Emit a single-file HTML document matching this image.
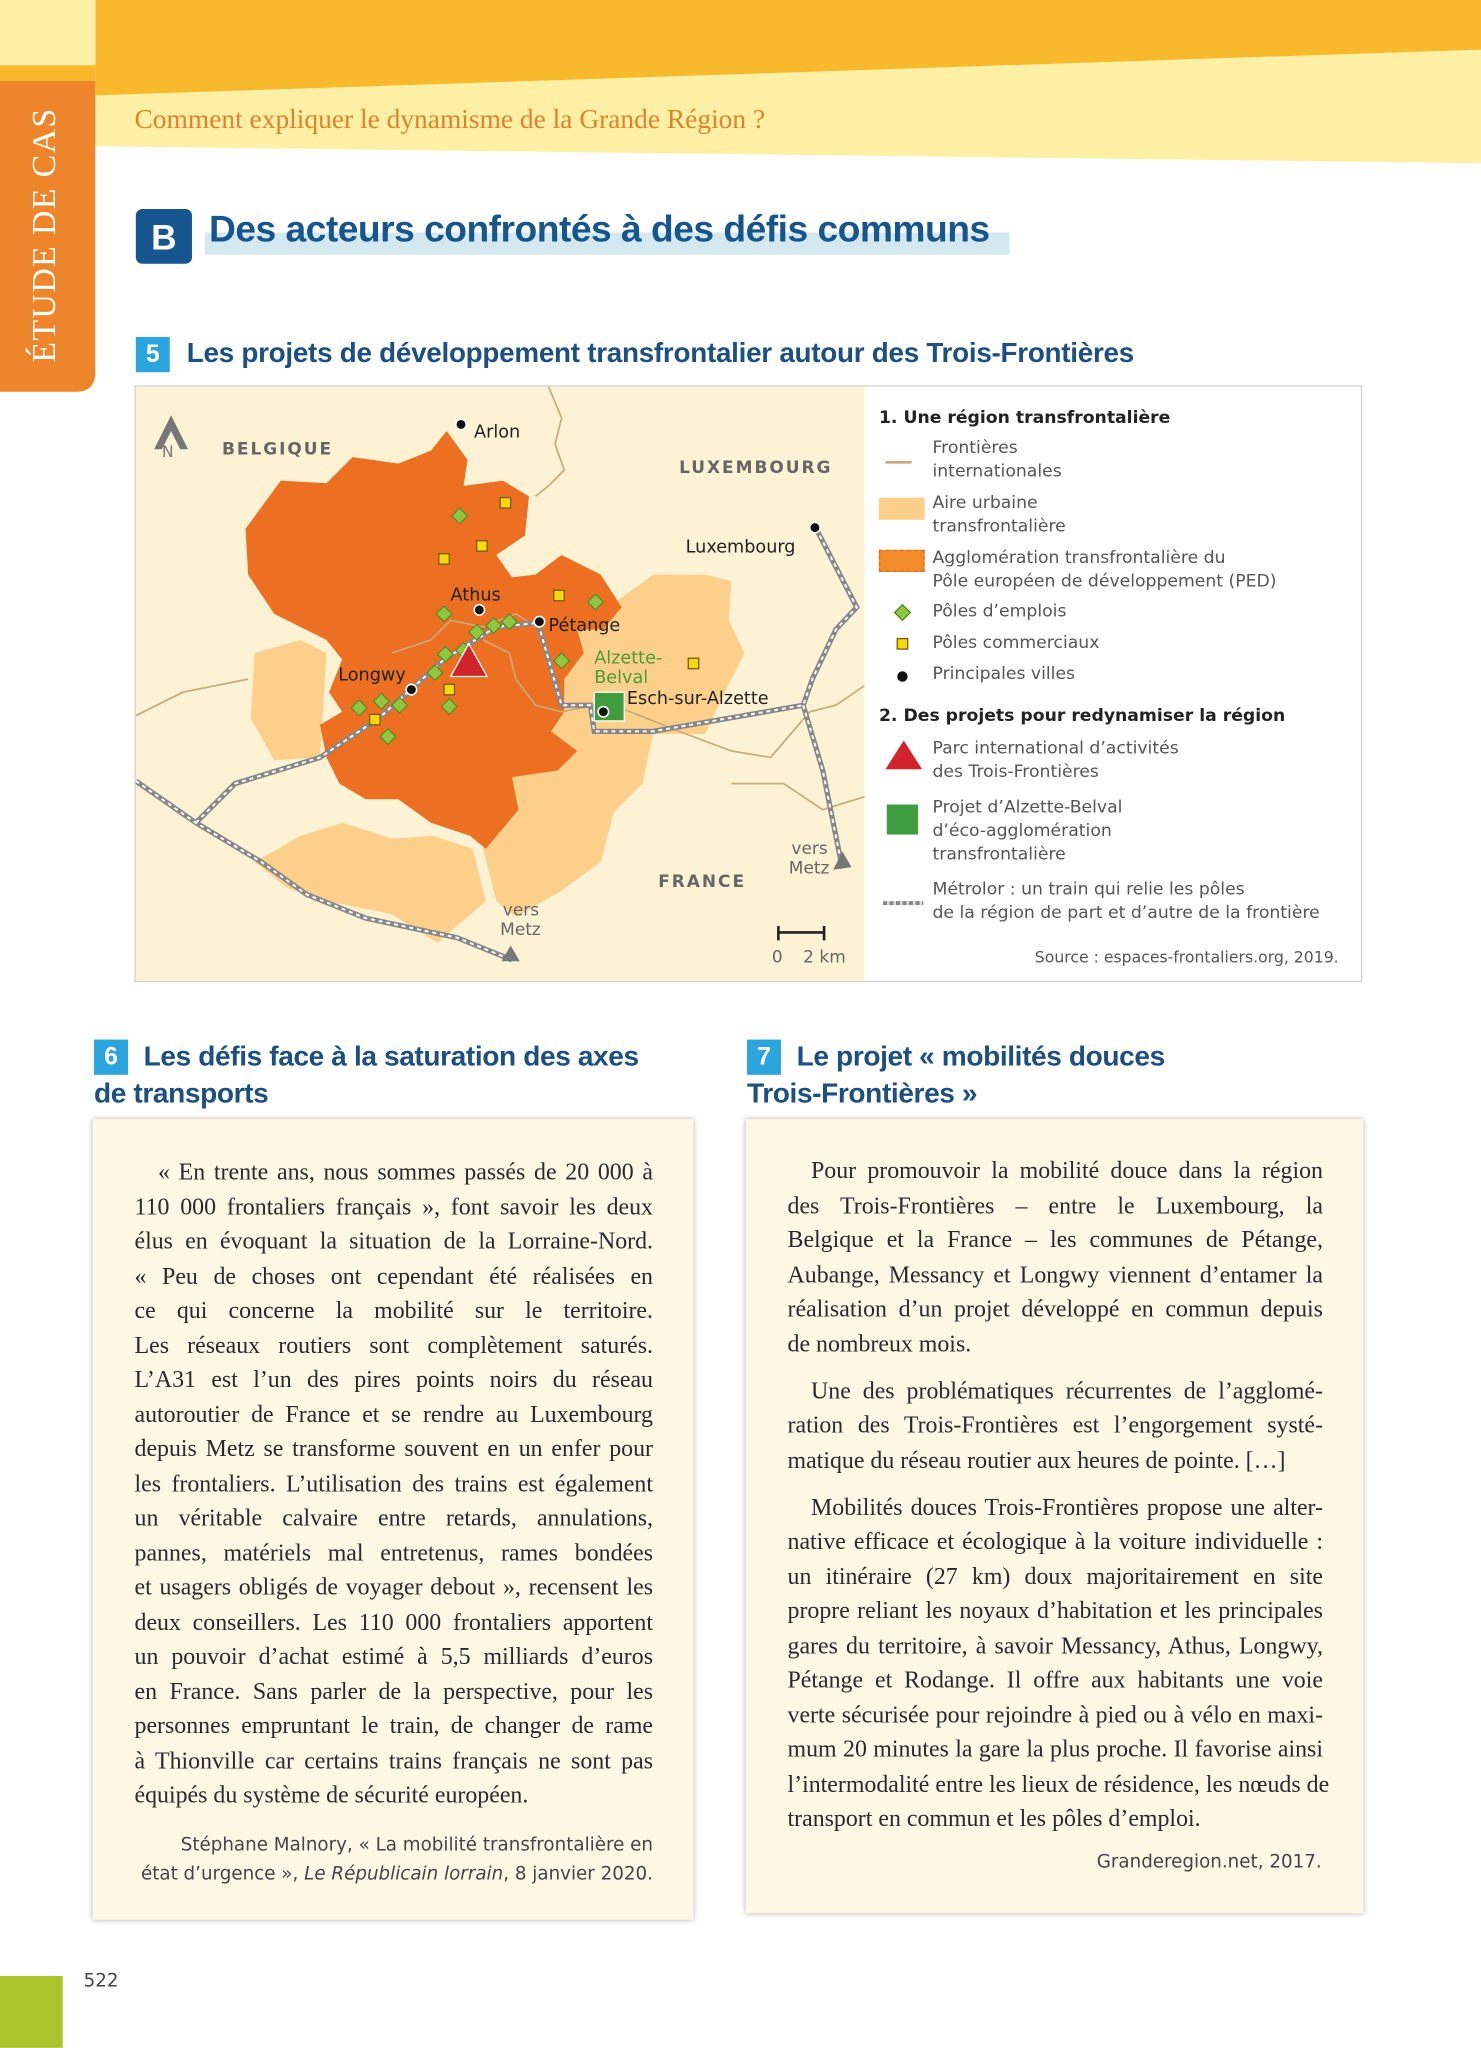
<!DOCTYPE html>
<html><head><meta charset="utf-8">
<style>
html,body{margin:0;padding:0;background:#fff;}
body{width:1481px;height:2048px;overflow:hidden;position:relative;}
#p{position:absolute;left:0;top:0;width:1134px;height:1568px;transform:scale(1.306);transform-origin:0 0;background:#fff;}
.a{position:absolute;}
.sans{font-family:"Liberation Sans",sans-serif;}
.dv{font-family:"DejaVu Sans","Liberation Sans",sans-serif;}
.col{position:absolute;font-family:"Liberation Serif",serif;font-size:18.3px;line-height:26.5px;color:#2a2a2a;}
.col div{text-align:justify;text-align-last:justify;white-space:nowrap;}
.col div.l{text-align-last:left;}
.col div.i{padding-left:18px;}
.col div.gap{margin-top:9.5px;}
.h{font-family:"Liberation Sans",sans-serif;font-weight:bold;color:#1d4f80;}
.lg{position:absolute;left:714px;font-family:"DejaVu Sans",sans-serif;font-size:13.2px;line-height:18px;color:#555;}
</style></head><body>
<div id="p">
<svg class="a" style="left:0;top:0" width="1134" height="320">
<polygon points="73,0 1134,0 1134,125 73,112" fill="#fdf0a4"/>
<polygon points="73,0 1134,0 1134,38 73,73" fill="#f8b92c"/>
<rect x="0" y="0" width="73" height="50" fill="#fdf0a4"/>
<rect x="0" y="50" width="73" height="12" fill="#f8b92c"/>
<path d="M0,62 H73 V285 Q73,300 58,300 H0 Z" fill="#ee852a"/>
</svg>
<div class="a" style="left:34px;top:180px;transform:translate(-50%,-50%) rotate(-90deg);font-family:'Liberation Serif',serif;font-size:26px;color:#fff;white-space:nowrap;letter-spacing:1px;">ÉTUDE DE CAS</div>
<div class="a" style="left:103px;top:79px;font-family:'Liberation Serif',serif;font-size:21px;color:#e0822c;">Comment expliquer le dynamisme de la Grande Région ?</div>

<div class="a" style="left:157px;top:178px;width:616px;height:17px;background:#d4e9ef;"></div>
<div class="a" style="left:104px;top:160px;width:43px;height:42px;background:#17558e;border-radius:5px;color:#fff;font:bold 27px 'Liberation Sans',sans-serif;text-align:center;line-height:44px;">B</div>
<div class="a h" style="left:160px;top:160px;font-size:28.5px;letter-spacing:-0.4px;color:#17558e;">Des acteurs confrontés à des défis communs</div>

<div class="a" style="left:104px;top:258px;width:26px;height:27px;background:#2aa5de;color:#fff;font:bold 19px 'Liberation Sans',sans-serif;text-align:center;line-height:27px;">5</div>
<div class="a h" style="left:143px;top:258px;font-size:21.3px;letter-spacing:-0.2px;">Les projets de développement transfrontalier autour des Trois-Frontières</div>

<div class="a" style="left:103px;top:295px;width:940px;height:457px;border:1px solid #cfcfcf;background:#fff;box-sizing:border-box;"></div>
<svg class="a" style="left:104px;top:296px" width="558" height="455" viewBox="104 296 558 455">
<rect x="104" y="296" width="558" height="455" fill="#fdf2d4"/>
<g fill="#fcd08a">
<polygon points="195,500 230,490 250,500 245,580 210,582 192,550"/>
<polygon points="430,470 470,462 500,440 540,440 560,445 558,475 570,500 555,530 540,562 500,562 492,600 470,622 460,660 430,682 395,702 380,690 370,650 395,620 390,595 425,590 440,575 420,560 430,520 445,500"/>
<polygon points="195,660 230,640 262,630 300,642 332,640 362,650 372,690 335,722 300,700 250,690 220,680"/>
</g>
<polygon fill="#ec6f22" points="188,405 215,368 250,370 270,350 305,355 330,345 342,330 358,352 355,372 385,368 405,380 402,410 380,425 392,442 410,440 430,425 460,440 476,465 462,482 442,482 447,500 432,520 432,545 422,560 442,575 427,590 392,595 397,620 372,650 360,640 330,630 305,612 280,612 260,600 250,580 245,555 262,545 252,530 262,505 250,490 210,470 190,440"/>
<g fill="none" stroke="#c9a97a" stroke-width="1.3">
<path d="M420,296 L430,320 L425,340 L432,360 L420,372 L410,380"/>
<path d="M104,548 L140,530 L190,520"/>
<path d="M300,500 L330,490 L345,475 L370,480 L395,470 L410,480"/>
<path d="M370,490 L390,500 L395,520 L410,540 L430,545 L455,540"/>
<path d="M470,540 L520,560 L560,575 L590,580 L620,545 L640,540 L662,525"/>
<path d="M560,600 L600,600 L630,620 L662,610"/>
</g>
<g fill="none">
<path id="r1" d="M104,598 L150,630 L200,660 L235,685 L280,703 L350,718 L392,735"/>
<path id="r2" d="M150,630 L180,600 L245,580 L290,550 L340,505 L380,480 L412,477 L430,540 L452,540 L455,560 L500,560 L615,540 L622,520 L640,482 L656,465 L625,405"/>
<path id="r3" d="M615,540 L630,590 L645,665"/>
</g>
<g fill="none" stroke="#888" stroke-width="4"><use href="#r1"/><use href="#r2"/><use href="#r3"/></g>
<g fill="none" stroke="#fff" stroke-width="1.5" stroke-dasharray="3,3"><use href="#r1"/><use href="#r2"/><use href="#r3"/></g>
<polygon points="384,736 398,736 391,724" fill="#777"/>
<polygon points="638,666 652,664 645,652" fill="#777"/>
<g fill="#8fc63f" stroke="#4f8a1e" stroke-width="0.8">
<g id="dm"><polygon points="0,-6 6,0 0,6 -6,0"/></g>
<use href="#dm" x="352" y="395"/><use href="#dm" x="340" y="470"/><use href="#dm" x="365" y="484"/><use href="#dm" x="378" y="479"/><use href="#dm" x="390" y="476"/><use href="#dm" x="355" y="498"/><use href="#dm" x="341" y="501"/><use href="#dm" x="333" y="515"/><use href="#dm" x="344" y="541"/><use href="#dm" x="306" y="540"/><use href="#dm" x="292" y="537"/><use href="#dm" x="275" y="542"/><use href="#dm" x="297" y="564"/><use href="#dm" x="430" y="506"/><use href="#dm" x="456" y="461"/>
</g>
<g fill="#f5d90a" stroke="#7a5a00" stroke-width="1">
<rect x="383" y="381" width="8" height="8"/><rect x="365" y="414" width="8" height="8"/><rect x="336" y="424" width="8" height="8"/><rect x="424" y="452" width="8" height="8"/><rect x="340" y="524" width="8" height="8"/><rect x="283" y="547" width="8" height="8"/><rect x="527" y="504" width="8" height="8"/>
</g>
<rect x="455" y="530" width="23" height="22" fill="#3f9c3f" stroke="#fff" stroke-width="1"/>
<polygon points="345,518 373,518 359,493" fill="#d1232a" stroke="#fff" stroke-width="1"/>
<g fill="#111" stroke="#fff" stroke-width="1.2">
<circle cx="353" cy="325" r="4"/><circle cx="624" cy="404" r="4"/><circle cx="367" cy="467" r="4"/><circle cx="413" cy="476" r="4"/><circle cx="315" cy="528" r="4"/><circle cx="462" cy="545" r="4"/>
</g>
<g font-family="DejaVu Sans,sans-serif" font-size="13.5" fill="#222">
<text x="363" y="335">Arlon</text><text x="345" y="460">Athus</text><text x="420" y="483">Pétange</text><text x="259" y="521">Longwy</text><text x="480" y="539">Esch-sur-Alzette</text><text x="525" y="423">Luxembourg</text>
<text x="455" y="508" fill="#4a9d36">Alzette-</text><text x="455" y="523" fill="#4a9d36">Belval</text>
</g>
<g font-family="DejaVu Sans,sans-serif" font-size="13" fill="#666">
<text x="385" y="701">vers</text><text x="383" y="716">Metz</text><text x="606" y="654">vers</text><text x="604" y="669">Metz</text>
<text x="591" y="737">0</text><text x="615" y="737">2 km</text>
</g>
<g font-family="DejaVu Sans,sans-serif" font-size="13" font-weight="bold" fill="#666" letter-spacing="1.5">
<text x="170" y="348">BELGIQUE</text><text x="520" y="362">LUXEMBOURG</text><text x="504" y="679">FRANCE</text>
</g>
<path d="M596,720 V709 M596,714 H631 M631,709 V720" stroke="#222" stroke-width="2" fill="none"/>
<path d="M118,344 L131,318 L144,344 L138,344 L131,330 L124,344 Z" fill="#777"/>
<text x="124" y="350" font-family="DejaVu Sans,sans-serif" font-size="12" fill="#777">N</text>
</svg>

<div class="a dv" style="left:673px;top:313px;font-size:13.2px;font-weight:bold;color:#222;">1. Une région transfrontalière</div>
<div class="a" style="left:678px;top:353px;width:20px;height:2px;background:#c9a97a;"></div>
<div class="lg" style="top:335px;">Frontières<br>internationales</div>
<div class="a" style="left:673px;top:381px;width:35px;height:17px;background:#fcd08a;"></div>
<div class="lg" style="top:377px;">Aire urbaine<br>transfrontalière</div>
<div class="a" style="left:673px;top:421px;width:35px;height:17px;background:#f28c28;border:1px dashed #e06a1a;box-sizing:border-box;"></div>
<div class="lg" style="top:419px;">Agglomération transfrontalière du<br>Pôle européen de développement (PED)</div>
<svg class="a" style="left:680px;top:460px" width="25" height="70">
<polygon points="11,3 17,9 11,15 5,9" fill="#8fc63f" stroke="#4f8a1e"/>
<rect x="7" y="29" width="8" height="8" fill="#f5d90a" stroke="#7a5a00"/>
<circle cx="11" cy="58" r="4" fill="#111"/>
</svg>
<div class="lg" style="top:460px;">Pôles d’emplois</div>
<div class="lg" style="top:484px;">Pôles commerciaux</div>
<div class="lg" style="top:508px;">Principales villes</div>
<div class="a dv" style="left:673px;top:541px;font-size:13.2px;font-weight:bold;color:#222;">2. Des projets pour redynamiser la région</div>
<svg class="a" style="left:676px;top:565px" width="35" height="110">
<polygon points="2,24 30,24 16,2" fill="#d1232a"/>
<rect x="3" y="51" width="24" height="23" fill="#3f9c3f"/>
</svg>
<div class="lg" style="top:565px;">Parc international d’activités<br>des Trois-Frontières</div>
<div class="lg" style="top:610px;">Projet d’Alzette-Belval<br>d’éco-agglomération<br>transfrontalière</div>
<div class="a" style="left:676px;top:690px;width:31px;height:3px;background:repeating-linear-gradient(90deg,#888 0 3px,#ddd 3px 5px);"></div>
<div class="lg" style="top:673px;">Métrolor : un train qui relie les pôles<br>de la région de part et d’autre de la frontière</div>
<div class="a dv" style="left:760px;top:726px;width:265px;text-align:right;font-size:12px;color:#555;white-space:nowrap;">Source : espaces-frontaliers.org, 2019.</div>

<div class="a" style="left:72px;top:796px;width:26px;height:27px;background:#2aa5de;color:#fff;font:bold 19px 'Liberation Sans',sans-serif;text-align:center;line-height:27px;">6</div>
<div class="a h" style="left:72px;top:795px;font-size:21.5px;line-height:28px;letter-spacing:-0.3px;"><span style="padding-left:38px">Les défis face à la saturation des axes</span><br>de transports</div>
<div class="a" style="left:71px;top:857px;width:460px;height:613px;background:#fdf8e6;box-shadow:0 0 4px rgba(0,0,0,0.3);"></div>
<div class="col" style="left:103px;top:884px;width:397px;">
<div class="i">« En trente ans, nous sommes passés de 20 000 à</div>
<div>110 000 frontaliers français », font savoir les deux</div>
<div>élus en évoquant la situation de la Lorraine-Nord.</div>
<div>« Peu de choses ont cependant été réalisées en</div>
<div>ce qui concerne la mobilité sur le territoire.</div>
<div>Les réseaux routiers sont complètement saturés.</div>
<div>L’A31 est l’un des pires points noirs du réseau</div>
<div>autoroutier de France et se rendre au Luxembourg</div>
<div>depuis Metz se transforme souvent en un enfer pour</div>
<div>les frontaliers. L’utilisation des trains est également</div>
<div>un véritable calvaire entre retards, annulations,</div>
<div>pannes, matériels mal entretenus, rames bondées</div>
<div>et usagers obligés de voyager debout », recensent les</div>
<div>deux conseillers. Les 110 000 frontaliers apportent</div>
<div>un pouvoir d’achat estimé à 5,5 milliards d’euros</div>
<div>en France. Sans parler de la perspective, pour les</div>
<div>personnes empruntant le train, de changer de rame</div>
<div>à Thionville car certains trains français ne sont pas</div>
<div class="l">équipés du système de sécurité européen.</div>
</div>
<div class="a dv" style="left:100px;top:1402px;width:400px;text-align:right;font-size:14px;line-height:22px;color:#444;">Stéphane Malnory, « La mobilité transfrontalière en<br>état d’urgence », <i>Le Républicain lorrain</i>, 8 janvier 2020.</div>

<div class="a" style="left:572px;top:796px;width:26px;height:27px;background:#2aa5de;color:#fff;font:bold 19px 'Liberation Sans',sans-serif;text-align:center;line-height:27px;">7</div>
<div class="a h" style="left:572px;top:795px;font-size:21.5px;line-height:28px;letter-spacing:-0.3px;"><span style="padding-left:38px">Le projet « mobilités douces</span><br>Trois-Frontières »</div>
<div class="a" style="left:571px;top:857px;width:473px;height:608px;background:#fdf8e6;box-shadow:0 0 4px rgba(0,0,0,0.3);"></div>
<div class="col" style="left:603px;top:883px;width:410px;">
<div class="i">Pour promouvoir la mobilité douce dans la région</div>
<div>des Trois-Frontières – entre le Luxembourg, la</div>
<div>Belgique et la France – les communes de Pétange,</div>
<div>Aubange, Messancy et Longwy viennent d’entamer la</div>
<div>réalisation d’un projet développé en commun depuis</div>
<div class="l">de nombreux mois.</div>
<div class="i gap">Une des problématiques récurrentes de l’agglomé-</div>
<div>ration des Trois-Frontières est l’engorgement systé-</div>
<div class="l">matique du réseau routier aux heures de pointe. […]</div>
<div class="i gap">Mobilités douces Trois-Frontières propose une alter-</div>
<div>native efficace et écologique à la voiture individuelle :</div>
<div>un itinéraire (27 km) doux majoritairement en site</div>
<div>propre reliant les noyaux d’habitation et les principales</div>
<div>gares du territoire, à savoir Messancy, Athus, Longwy,</div>
<div>Pétange et Rodange. Il offre aux habitants une voie</div>
<div>verte sécurisée pour rejoindre à pied ou à vélo en maxi-</div>
<div>mum 20 minutes la gare la plus proche. Il favorise ainsi</div>
<div>l’intermodalité entre les lieux de résidence, les nœuds de</div>
<div class="l">transport en commun et les pôles d’emploi.</div>
</div>
<div class="a dv" style="left:700px;top:1418px;width:312px;text-align:right;font-size:14px;color:#444;">Granderegion.net, 2017.</div>

<div class="a" style="left:0;top:1513px;width:48px;height:55px;background:#a9c52b;"></div>
<div class="a dv" style="left:64px;top:1509px;font-size:14px;color:#444;">522</div>
</div>
</body></html>
